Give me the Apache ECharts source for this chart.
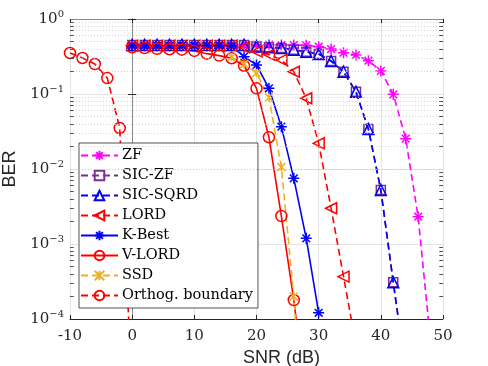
<!DOCTYPE html>
<html>
<head>
<meta charset="utf-8">
<script src="https://cdn.jsdelivr.net/npm/echarts@6/dist/echarts.min.js"></script>
<style>
  html,body{margin:0;padding:0;background:#fff}
  #c{width:488px;height:366px}
</style>
</head>
<body>
<div id="c"></div>
<script>
// ---- data (SNR in dB, BER) ----
var snrZF   = [0,2,4,6,8,10,12,14,16,18,20,22,24,26,28,30,32,34,36,38,40,42,44,46,48];
var berZF   = [0.46,0.46,0.46,0.46,0.46,0.46,0.46,0.46,0.46,0.46,0.455,0.455,0.45,0.45,0.445,0.427,0.398,0.355,0.331,0.278,0.203,0.099,0.0254,0.00231,0.00005];
var snrSIC  = [0,2,4,6,8,10,12,14,16,18,20,22,24,26,28,30,32,34,36,38,40,42,44];
var berSICZF= [0.45,0.45,0.45,0.45,0.45,0.45,0.45,0.45,0.45,0.45,0.43,0.42,0.41,0.39,0.365,0.341,0.275,0.198,0.107,0.0341,0.00525,0.000308,0.00002];
var berSQRD = [0.45,0.45,0.45,0.45,0.45,0.45,0.45,0.45,0.45,0.45,0.43,0.42,0.41,0.39,0.365,0.341,0.275,0.198,0.107,0.0341,0.00525,0.000308,0.00002];
var snrLORD = [0,2,4,6,8,10,12,14,16,18,20,22,24,26,28,30,32,34,36];
var berLORD = [0.44,0.44,0.44,0.44,0.44,0.44,0.44,0.44,0.44,0.42,0.37,0.335,0.285,0.198,0.0877,0.022,0.003,0.000367,0.000045];
var snrKB   = [0,2,4,6,8,10,12,14,16,18,20,22,24,26,28,30];
var berKB   = [0.44,0.44,0.44,0.44,0.44,0.44,0.44,0.44,0.435,0.315,0.244,0.119,0.0367,0.0075,0.00119,0.000121];
var snrVL   = [0,2,4,6,8,10,12,14,16,18,20,22,24,26,28];
var berVL   = [0.42,0.41,0.40,0.395,0.39,0.375,0.345,0.325,0.30,0.238,0.119,0.0265,0.00236,0.000179,0.000008];
var snrSSD  = [16,18,20,22,24,26,28];
var berSSD  = [0.31,0.25,0.19,0.09,0.0106,0.0002,0.000001];
var snrOB   = [-10,-8,-6,-4,-2,0];
var berOB   = [0.352,0.302,0.251,0.163,0.0352,0.00001];

var xTicks = [-10,0,10,20,30,40,50];
var decades = [-4,-3,-2,-1,0];

var INK = '#262626';
var SERIF = 'DejaVu Serif';
var SANS = 'Liberation Sans';
var STAR  = 'path://M5,0L5,10M0,5L10,5M1.5,1.5L8.5,8.5M1.5,8.5L8.5,1.5';
var XMARK = 'path://M0,0L10,10M0,10L10,0M5,0L5,10';

function pts(xs, ys){ return xs.map(function(x,i){ return [x, ys[i]]; }); }
function mk(name, xs, ys, col, dashed, sym, size, rot){
  return {
    name:name, type:'line', data:pts(xs,ys), color:col,
    symbol:sym, symbolSize:size, symbolRotate:rot||0,
    animation:false, z:3,
    lineStyle:{ color:col, width:1.6, type: dashed ? [7,4] : 'solid' },
    itemStyle:{ color:'rgba(0,0,0,0)', borderColor:col, borderWidth:1.5 }
  };
}

// log minor grid (2..9 x 10^e) as dotted lines + inside minor ticks
var minorLines = [], minorTicks = [];
for (var d = decades[0]; d < decades[decades.length-1]; d++){
  for (var k = 2; k <= 9; k++){
    var v = k*Math.pow(10,d);
    minorLines.push({ yAxis:v });
    minorTicks.push([{ coord:[xTicks[0], v] }, { coord:[xTicks[0]+0.6, v] }]);
    minorTicks.push([{ coord:[xTicks[xTicks.length-1]-0.6, v] }, { coord:[xTicks[xTicks.length-1], v] }]);
  }
}

var series = [
  { name:'_grid', type:'line', data:[], z:1, silent:true, animation:false,
    markLine:{ silent:true, symbol:'none', label:{show:false}, animation:false,
      lineStyle:{ color:'#c8c8c8', width:0.8, type:[1,2] }, data:minorLines } },
  { name:'_ticks', type:'line', data:[], z:1, silent:true, animation:false,
    markLine:{ silent:true, symbol:'none', label:{show:false}, animation:false,
      lineStyle:{ color:INK, width:0.8, type:'solid' }, data:minorTicks } },
  mk('ZF',       snrZF,   berZF,    '#ff00ff', true,  STAR,       11),
  mk('SIC-ZF',   snrSIC,  berSICZF, '#7e2f8e', true,  'rect',      9),
  mk('SIC-SQRD', snrSIC,  berSQRD,  '#0000ff', true,  'triangle', 11),
  mk('LORD',     snrLORD, berLORD,  '#ff0000', true,  'triangle', 11, 90),
  mk('K-Best',   snrKB,   berKB,    '#0000ff', false, STAR,       11),
  mk('V-LORD',   snrVL,   berVL,    '#ff0000', false, 'circle',   11),
  mk('SSD',      snrSSD,  berSSD,   '#edb120', true,  XMARK,       8),
  mk('Orthog. boundary', snrOB, berOB, '#ff0000', true, 'circle', 11)
];

function supLabel(v){
  var e = Math.round(Math.log10(v));
  return '{b|10}{s|' + (e < 0 ? '\u2212' + (-e) : e) + '}';
}

var chart = echarts.init(document.getElementById('c'), null, { renderer:'canvas' });
chart.setOption({
  backgroundColor:'#fff',
  animation:false,
  grid:{ left:70, right:45, top:19, bottom:47, containLabel:false, outerBoundsMode:'none' },
  legend:{
    data:['ZF','SIC-ZF','SIC-SQRD','LORD','K-Best','V-LORD','SSD','Orthog. boundary'],
    orient:'vertical', left:79, top:143,
    backgroundColor:'#fff', borderColor:INK, borderWidth:0.8,
    padding:[5,5,5,1], itemGap:5, itemWidth:37, itemHeight:12,
    textStyle:{ fontFamily:SERIF, fontSize:14.5, color:'#000', padding:[0,0,0,-1] }
  },
  xAxis:[{
    type:'value', min:-10, max:50, interval:10,
    axisLine:{ show:true, lineStyle:{ color:INK, width:1 } },
    axisTick:{ show:true, inside:true, length:4, lineStyle:{ color:INK } },
    axisLabel:{ fontFamily:SERIF, fontSize:15, color:INK, margin:10 },
    splitLine:{ show:true, lineStyle:{ color:'#e3e3e3', width:1 } },
    name:'SNR (dB)', nameLocation:'middle', nameGap:21,
    nameTextStyle:{ fontFamily:SANS, fontSize:18, color:INK, padding:[0,0,0,50] }
  },{
    type:'value', position:'top', min:-10, max:50, interval:10,
    axisLine:{ show:true, lineStyle:{ color:'#8a8a8a', width:1 } },
    axisTick:{ show:true, inside:true, length:4, lineStyle:{ color:INK } },
    axisLabel:{ show:false }, splitLine:{ show:false }
  }],
  yAxis:[{
    type:'log', logBase:10, min:1e-4, max:1,
    axisLine:{ show:true, lineStyle:{ color:INK, width:1 } },
    axisTick:{ show:true, inside:true, length:4, lineStyle:{ color:INK } },
    axisLabel:{ formatter:supLabel, margin:6,
      rich:{ b:{ fontFamily:SERIF, fontSize:15, color:INK },
             s:{ fontFamily:SERIF, fontSize:10, color:INK, verticalAlign:'top', padding:[0,0,9,0] } } },
    splitLine:{ show:true, lineStyle:{ color:'#e3e3e3', width:1 } },
    name:'BER', nameLocation:'middle', nameGap:46,
    nameTextStyle:{ fontFamily:SANS, fontSize:18, color:INK }
  },{
    type:'log', logBase:10, min:1e-4, max:1, position:'right',
    axisLine:{ show:true, lineStyle:{ color:'#8a8a8a', width:1 } },
    axisTick:{ show:true, inside:true, length:4, lineStyle:{ color:INK } },
    axisLabel:{ show:false }, splitLine:{ show:false }
  }],
  series:series
});
</script>
</body>
</html>
